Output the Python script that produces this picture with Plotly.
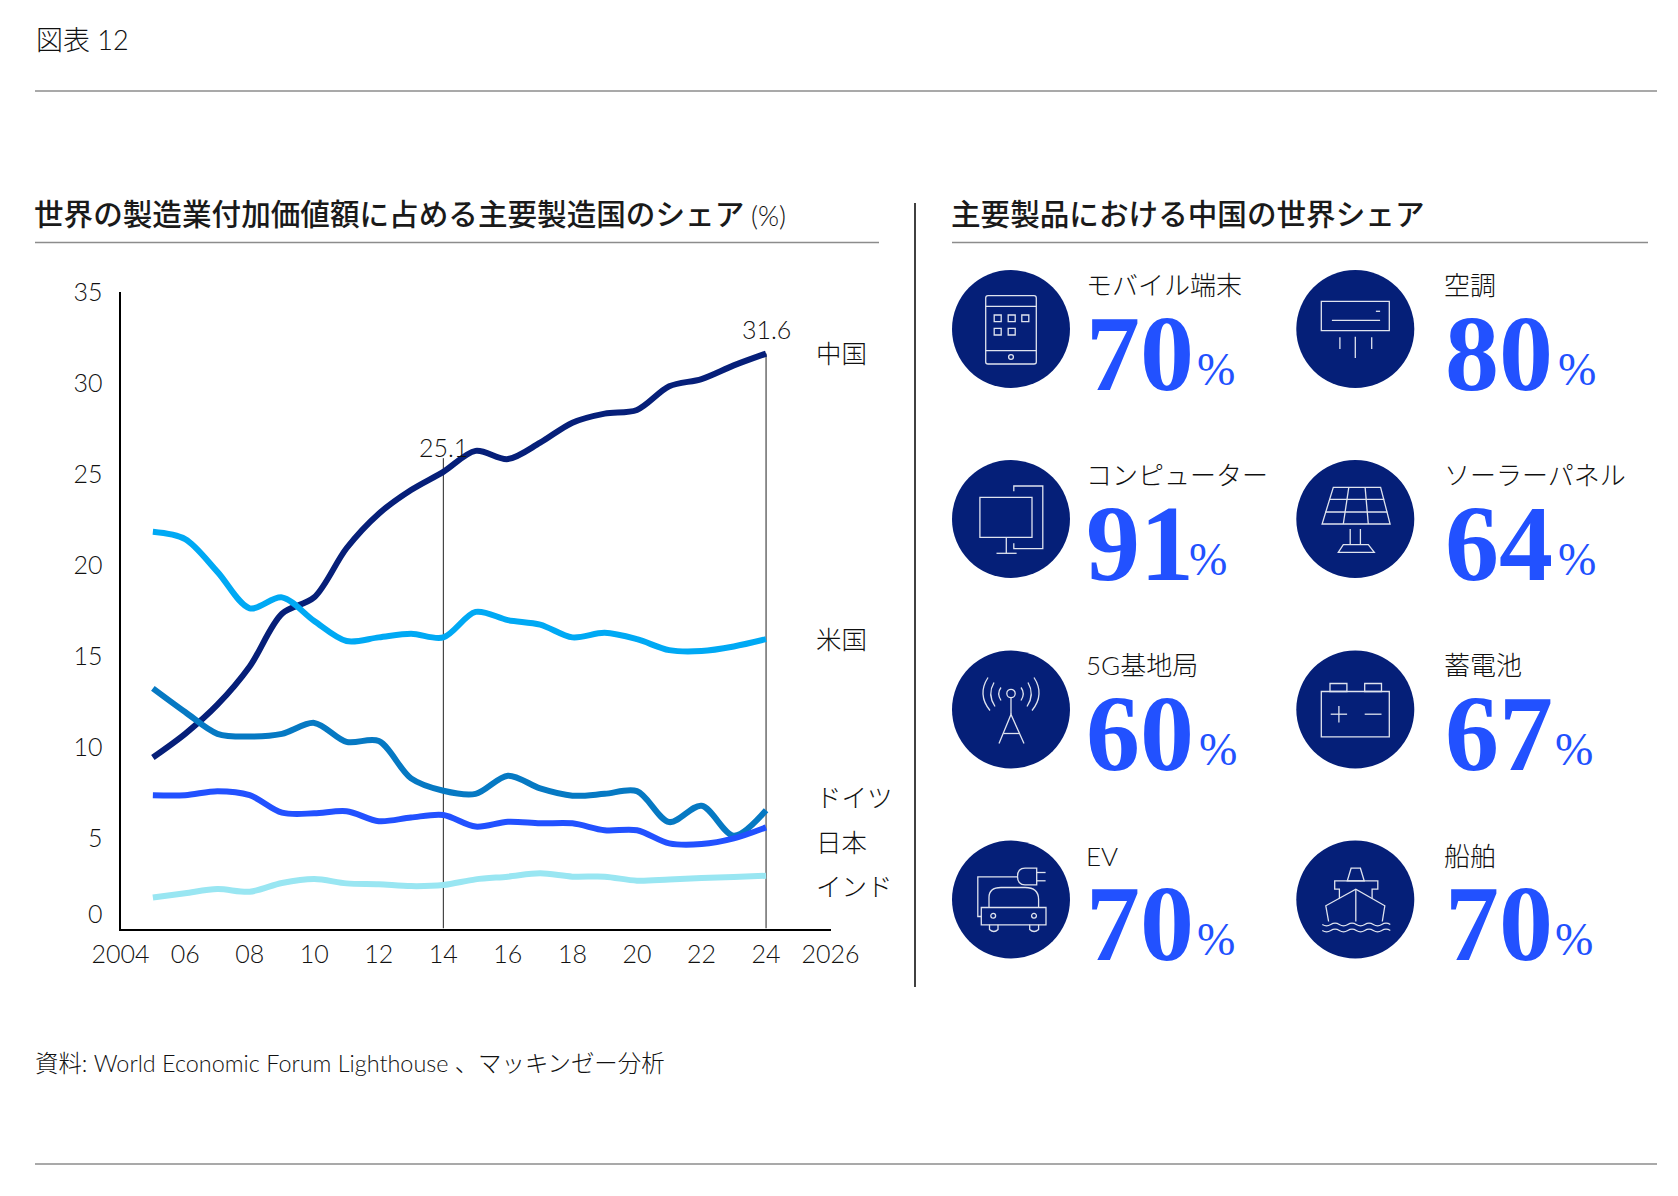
import plotly.graph_objects as go

W, H = 1678, 1196
years = list(range(2005, 2025))
china = [9.4, 10.7, 12.3, 14.4, 17.3, 18.2, 20.9, 22.8, 24.1, 25.1, 26.25, 25.8, 26.7, 27.8, 28.3, 28.5, 29.8, 30.2, 30.95, 31.6]
usa = [21.8, 21.4, 19.6, 17.6, 18.2, 16.9, 15.8, 16.0, 16.2, 16.0, 17.4, 16.95, 16.7, 16.0, 16.25, 15.9, 15.3, 15.25, 15.5, 15.9]
germany = [13.2, 11.9, 10.7, 10.55, 10.7, 11.3, 10.26, 10.3, 8.25, 7.57, 7.4, 8.4, 7.7, 7.3, 7.4, 7.55, 5.85, 6.75, 5.1, 6.5]
japan = [7.33, 7.33, 7.55, 7.33, 6.37, 6.33, 6.45, 5.9, 6.1, 6.24, 5.6, 5.87, 5.78, 5.78, 5.4, 5.4, 4.68, 4.64, 4.95, 5.56]
india = [1.7, 1.94, 2.17, 2.02, 2.5, 2.72, 2.48, 2.43, 2.33, 2.39, 2.7, 2.85, 3.03, 2.85, 2.85, 2.63, 2.7, 2.77, 2.83, 2.9]
series_names = ["中国", "米国", "ドイツ", "日本", "インド"]
series_values = [china, usa, germany, japan, india]
series_colors = ["#061F79", "#00A9F4", "#0679C3", "#2251FF", "#99E6F2"]
x_ticks = [2004, 2006, 2008, 2010, 2012, 2014, 2016, 2018, 2020, 2022, 2024, 2026]
x_labels = ["2004", "06", "08", "10", "12", "14", "16", "18", "20", "22", "24", "2026"]
y_ticks = [5, 10, 15, 20, 25, 30, 35]
ref_years = [2014, 2024]
ref_tops = [25.85, 31.6]
ref_labels = ["25.1", "31.6"]

product_names = ["モバイル端末", "空調", "コンピューター", "ソーラーパネル", "5G基地局", "蓄電池", "EV", "船舶"]
product_shares = ["70", "80", "91", "64", "60", "67", "70", "70"]

SANS = "Lato, 'Noto Sans CJK JP', sans-serif"
CJK = "'Noto Sans CJK JP', sans-serif"
SERIF = "'Liberation Serif', serif"
TXT = "#111111"
NAVY = "#051F78"
ICON = "#dfe3ee"

def px(x): return x / W
def py(y): return 1 - y / H
def pt(x, y): return f"{px(x):.5f},{py(y):.5f}"

annotations, shapes = [], []

def text(x, y, s, size, color=TXT, family=SANS, anchor="left", weight=300, yanchor="middle"):
    f = dict(size=size, color=color, family=family)
    if weight: f["weight"] = weight
    annotations.append(dict(xref="paper", yref="paper", x=px(x), y=py(y), text=s, showarrow=False,
                            xanchor=anchor, yanchor=yanchor, font=f, borderpad=0, borderwidth=0))

def rule(x0, y0, x1, y1, color="#8c8c8c", width=1.6):
    shapes.append(dict(type="line", xref="paper", yref="paper", x0=px(x0), y0=py(y0), x1=px(x1), y1=py(y1),
                       line=dict(color=color, width=width), layer="below"))

def path(cx, cy, cmds, width=1.3):
    out = []
    for c in cmds:
        out.append(c if isinstance(c, str) else pt(cx + c[0], cy + c[1]))
    shapes.append(dict(type="path", xref="paper", yref="paper", path=" ".join(out),
                       line=dict(color=ICON, width=width), fillcolor="rgba(0,0,0,0)", layer="above"))

def poly(cx, cy, pts, close=False, width=1.3):
    cmds = ["M", pts[0]]
    for p in pts[1:]:
        cmds += ["L", p]
    if close: cmds.append("Z")
    path(cx, cy, cmds, width)

def rect(cx, cy, x0, y0, x1, y1):
    poly(cx, cy, [(x0, y0), (x1, y0), (x1, y1), (x0, y1)], True)

def circ(cx, cy, x, y, r):
    shapes.append(dict(type="circle", xref="paper", yref="paper", x0=px(cx + x - r), x1=px(cx + x + r),
                       y0=py(cy + y + r), y1=py(cy + y - r), line=dict(color=ICON, width=1.3),
                       fillcolor="rgba(0,0,0,0)", layer="above"))

def icon_tablet(c, d):
    path(c, d, ["M", (-23, -33.3), "L", (23, -33.3), "Q", (25.3, -33.3), (25.3, -31), "L", (25.3, 33), "Q", (25.3, 35), (23, 35),
                "L", (-23, 35), "Q", (-25.3, 35), (-25.3, 33), "L", (-25.3, -31), "Q", (-25.3, -33.3), (-23, -33.3), "Z"])
    poly(c, d, [(-25.3, -22.7), (25.3, -22.7)])
    poly(c, d, [(-25.3, 21.7), (25.3, 21.7)])
    for x0, y0 in [(-16.8, -14), (-2.8, -14), (10.8, -14), (-16.8, -0.7), (-2.8, -0.7)]:
        rect(c, d, x0, y0, x0 + 7, y0 + 6.7)
    circ(c, d, 0, 28, 2.4)

def icon_ac(c, d):
    rect(c, d, -34, -27.7, 34, 1.7)
    poly(c, d, [(-23.4, -8.7), (24.8, -8.7)])
    poly(c, d, [(20.6, -17.7), (24.8, -17.7)])
    poly(c, d, [(-15.4, 8.3), (-15.4, 20)])
    poly(c, d, [(0, 7.7), (0, 29)])
    poly(c, d, [(16.4, 8.3), (16.4, 20)])

def icon_pc(c, d):
    rect(c, d, -31.1, -21.7, 21, 18.3)
    poly(c, d, [(-4.7, 18.3), (-4.7, 34.3)])
    poly(c, d, [(-14.5, 34.3), (5.6, 34.3)])
    poly(c, d, [(2.8, -27.7), (2.8, -33), (31.8, -33), (31.8, 29.7), (2.8, 29.7), (2.8, 24.3)])

def icon_solar(c, d):
    poly(c, d, [(-22, -31.7), (25.3, -31.7), (34.8, 5), (-33.2, 5)], True)
    poly(c, d, [(-26, -19.7), (29, -19.7)])
    poly(c, d, [(-30, -7), (32, -7)])
    poly(c, d, [(-6.5, -31.7), (-12, 5)])
    poly(c, d, [(9.8, -31.7), (13, 5)])
    poly(c, d, [(-5.1, 10), (-5.1, 25.7)])
    poly(c, d, [(5.1, 10), (5.1, 25.7)])
    poly(c, d, [(-12, 25.7), (13, 25.7), (19, 33.3), (-17, 33.3)], True)

def icon_tower(c, d):
    circ(c, d, 0, -16, 4.2)
    poly(c, d, [(0, -12), (0, 5)])
    poly(c, d, [(-12, 34), (0, 5), (13, 34)])
    poly(c, d, [(-7.5, 24), (9, 24)])
    for sgn in (-1, 1):
        path(c, d, ["M", (sgn * 10, -22), "Q", (sgn * 14.5, -16), (sgn * 10, -9)])
        path(c, d, ["M", (sgn * 17, -27), "Q", (sgn * 24, -15), (sgn * 16, -3)])
        path(c, d, ["M", (sgn * 23, -32), "Q", (sgn * 34, -15), (sgn * 21, 1)])

def icon_battery(c, d):
    rect(c, d, -34, -18, 34, 27.3)
    rect(c, d, -25.3, -26, -8.4, -18)
    rect(c, d, 9.4, -26, 26.2, -18)
    poly(c, d, [(-24.6, 4.7), (-8.2, 4.7)])
    poly(c, d, [(-16.4, -3.6), (-16.4, 13)])
    poly(c, d, [(9.4, 4.7), (26.2, 4.7)])

def icon_ev(c, d):
    poly(c, d, [(-29.7, 17), (-33.2, 17), (-33.2, -22.7), (6.5, -22.7)])
    path(c, d, ["M", (25.7, -31.3), "L", (14, -31.3), "Q", (6.5, -31.3), (6.5, -23), "Q", (6.5, -14.7), (14, -14.7), "L", (25.7, -14.7), "Z"])
    poly(c, d, [(25.7, -27), (34.6, -27)])
    poly(c, d, [(25.7, -18.7), (34.6, -18.7)])
    rect(c, d, -29.7, 8, 35, 25.3)
    path(c, d, ["M", (-22, 8), "L", (-22, -2), "Q", (-22, -12), (-10, -12), "L", (14, -12), "Q", (27.6, -12), (27.6, 0), "L", (27.6, 8)])
    path(c, d, ["M", (-21.5, 25.3), "L", (-21.5, 30), "Q", (-17, 34), (-13, 30), "L", (-13, 25.3)])
    path(c, d, ["M", (18.7, 25.3), "L", (18.7, 30), "Q", (23, 34), (27.6, 30), "L", (27.6, 25.3)])
    circ(c, d, -17.8, 16.3, 2.4)
    circ(c, d, 23, 16.3, 2.4)

def icon_ship(c, d):
    poly(c, d, [(-4.2, -31.3), (5.1, -31.3), (8.9, -18.7), (-8, -18.7)], True)
    poly(c, d, [(-15.9, -1), (-15.9, -10.3), (-20.6, -10.3), (-20.6, -18.7), (22.5, -18.7), (22.5, -10.3), (16.8, -10.3), (16.8, -1)])
    poly(c, d, [(-26.7, 22), (-29.5, 6.3), (0.5, -10.3), (29.5, 6.3), (27, 22)])
    poly(c, d, [(0.5, -10.3), (0.5, 22)])
    for y in (25, 31):
        cmds = ["M", (-33, y)]
        x, step = -33, 8.5
        for i in range(8):
            cmds += ["Q", (x + step / 2, y + (2.6 if i % 2 == 0 else -2.6)), (x + step, y)]
            x += step
        path(c, d, cmds)

icons = [icon_tablet, icon_ac, icon_pc, icon_solar, icon_tower, icon_battery, icon_ev, icon_ship]
col_cx = [1011, 1355.3]
row_cy = [329, 519, 709.5, 899.5]
label_x = [1086, 1444]
num_x = [1086, 1445]
label_y = [284.5, 475, 665, 855.5]
num_y = [353, 543, 733, 923]
pct_x = [1197, 1558, 1189, 1558, 1199, 1555, 1197, 1555]
pct_y = [369, 559, 749, 939]

text(36, 40, "図表 12", 27)
rule(35, 91, 1657, 91)
rule(35, 1164, 1657, 1164)
text(34, 213, "世界の製造業付加価値額に占める主要製造国のシェア", 29.6, color="#1a1a1a", family=CJK, weight=500)
text(751, 215, "(%)", 27)
rule(35, 242.5, 879, 242.5)
rule(915, 203, 915, 987, color="#111111", width=1.6)
text(951, 213, "主要製品における中国の世界シェア", 29.6, color="#1a1a1a", family=CJK, weight=500)
rule(952, 242.5, 1648, 242.5)
text(35, 1063, "資料: World Economic Forum Lighthouse 、マッキンゼー分析", 23.4)

label_pos = [(816, 353), (816, 639), (816, 797), (816, 841.7), (816, 886)]
for n, (lx, ly) in zip(series_names, label_pos):
    text(lx, ly, n, 25.5)
text(443, 447, ref_labels[0], 25, anchor="center")
text(766, 329, ref_labels[1], 25, anchor="center")
text(103, 913, "0", 25, anchor="right")

for i, name in enumerate(product_names):
    r, c = i // 2, i % 2
    cx, cy = col_cx[c], row_cy[r]
    shapes.append(dict(type="circle", xref="paper", yref="paper", x0=px(cx - 59), x1=px(cx + 59),
                       y0=py(cy + 59), y1=py(cy - 59), fillcolor=NAVY, line=dict(width=0), layer="below"))
    icons[i](cx, cy)
    text(label_x[c], label_y[r], name, 26)
    text(num_x[c], num_y[r], product_shares[i], 108, color="#2251FF", family=SERIF, weight=700)
    text(pct_x[i], pct_y[r], "%", 46, color="#2251FF", family=SERIF, weight=400)

fig = go.Figure()
for yr, top in zip(ref_years, ref_tops):
    fig.add_trace(go.Scatter(x=[yr, yr], y=[0, top], mode="lines", line=dict(color="#222222", width=1), showlegend=False, hoverinfo="skip"))
for n, v, col in zip(series_names, series_values, series_colors):
    fig.add_trace(go.Scatter(x=years, y=v, name=n, mode="lines", line=dict(color=col, width=6, shape="spline", smoothing=0.9), showlegend=False))

tickfont = dict(size=25, color=TXT, family=SANS, weight=300)
fig.update_layout(
    width=W, height=H, margin=dict(l=0, r=0, t=0, b=0, pad=0, autoexpand=False), paper_bgcolor="white", plot_bgcolor="white",
    showlegend=False, annotations=annotations, shapes=shapes,
    xaxis=dict(domain=[px(120.6), px(830.6)], range=[2004, 2026], tickvals=x_ticks, ticktext=x_labels,
               showgrid=False, zeroline=False, showline=True, linecolor="#000000", linewidth=2,
               ticks="outside", ticklen=2, tickcolor="rgba(0,0,0,0)", tickfont=tickfont),
    yaxis=dict(domain=[py(928.5), py(291.7)], range=[0, 35], tickvals=y_ticks, ticklabelshift=1,
               showgrid=False, zeroline=False, showline=True, linecolor="#000000", linewidth=2,
               ticks="outside", ticklen=11, tickcolor="rgba(0,0,0,0)", tickfont=tickfont),
)
fig.write_html("out.html", config=dict(displayModeBar=False), post_script="document.body.style.margin='0';")
